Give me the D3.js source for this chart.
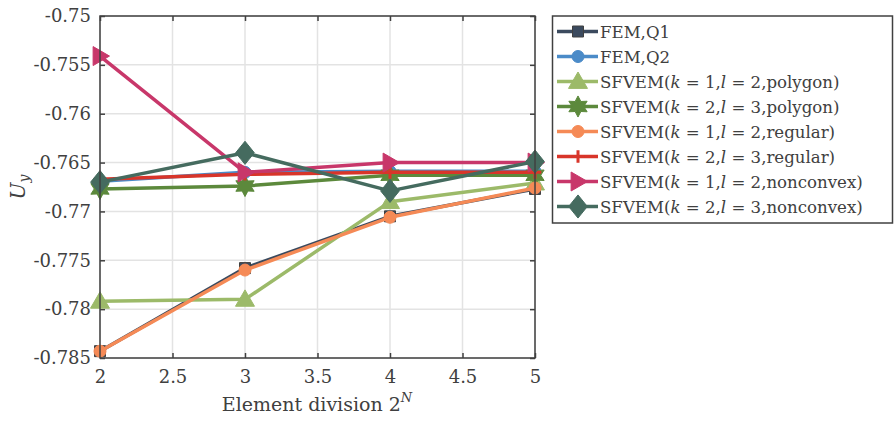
<!DOCTYPE html>
<html><head><meta charset="utf-8">
<script src="https://cdn.jsdelivr.net/npm/d3@7"></script>
<style>
body{margin:0;background:#fff;}
text{font-family:"DejaVu Serif",serif;fill:#404040;}
</style></head>
<body><svg id="c" width="894" height="421"></svg>
<script>
const xValues = [2, 3, 4, 5];
const seriesNames = [
  "FEM,Q1", "FEM,Q2",
  "SFVEM(k=1,l=2,polygon)", "SFVEM(k=2,l=3,polygon)",
  "SFVEM(k=1,l=2,regular)", "SFVEM(k=2,l=3,regular)",
  "SFVEM(k=1,l=2,nonconvex)", "SFVEM(k=2,l=3,nonconvex)"
];
const femQ1 = [-0.7843, -0.7758, -0.7705, -0.7677];
const femQ2 = [-0.7669, -0.7660, -0.7659, -0.7659];
const polyK1 = [-0.7792, -0.7790, -0.7690, -0.7671];
const polyK2 = [-0.7677, -0.7674, -0.7663, -0.7663];
const regK1 = [-0.7843, -0.7760, -0.7706, -0.7676];
const regK2 = [-0.7667, -0.7662, -0.7660, -0.7660];
const ncK1 = [-0.7541, -0.7660, -0.7650, -0.7650];
const ncK2 = [-0.7670, -0.7640, -0.7679, -0.7649];
const xTicks = [2, 2.5, 3, 3.5, 4, 4.5, 5];
const yTicks = [-0.75, -0.755, -0.76, -0.765, -0.77, -0.775, -0.78, -0.785];

const colors = ["#3b4a5e", "#4b8bc8", "#9cba69", "#5c893c", "#f58a56", "#d8352a", "#c8376a", "#456b5f"];
const markers = ["square", "circle", "triangle", "hexagram", "circle", "plus", "rtriangle", "diamond"];
const allData = [femQ1, femQ2, polyK1, polyK2, regK1, regK2, ncK1, ncK2];

const svg = d3.select("#c");
const L = 100, R = 535, T = 16, B = 358;
const x = d3.scaleLinear().domain([2, 5]).range([L, R]);
const y = d3.scaleLinear().domain([-0.785, -0.75]).range([B, T]);

svg.append("g").selectAll("line").data(xTicks).join("line")
  .attr("x1", d => x(d)).attr("x2", d => x(d)).attr("y1", T).attr("y2", B)
  .attr("stroke", "#e3e3e3").attr("stroke-width", 1.5);
svg.append("g").selectAll("line").data(yTicks).join("line")
  .attr("y1", d => y(d)).attr("y2", d => y(d)).attr("x1", L).attr("x2", R)
  .attr("stroke", "#e3e3e3").attr("stroke-width", 1.5);

const fmt = d => "-" + String(Math.abs(d));
const ax = svg.append("g");
ax.append("g").attr("transform", `translate(0,${B})`)
  .call(d3.axisBottom(x).tickValues(xTicks).tickSizeInner(-5).tickSizeOuter(0).tickPadding(12).tickFormat(d => String(d)));
ax.append("g").attr("transform", `translate(0,${T})`)
  .call(d3.axisTop(x).tickValues(xTicks).tickSizeInner(-5).tickSizeOuter(0).tickFormat(""));
ax.append("g").attr("transform", `translate(${L},0)`)
  .call(d3.axisLeft(y).tickValues(yTicks).tickSizeInner(-5).tickSizeOuter(0).tickPadding(9).tickFormat(fmt));
ax.append("g").attr("transform", `translate(${R},0)`)
  .call(d3.axisRight(y).tickValues(yTicks).tickSizeInner(-5).tickSizeOuter(0).tickFormat(""));
ax.selectAll(".domain").remove();
ax.selectAll(".tick line").attr("stroke", "#404040").attr("stroke-width", 1.5);
ax.selectAll(".tick text").attr("font-size", 18).attr("fill", "#404040");

function markerPath(type, s) {
  const p = d3.path();
  if (type === "square") { p.rect(-s/2, -s/2, s, s); }
  else if (type === "circle") { p.arc(0, 0, s/2, 0, 2*Math.PI); }
  else if (type === "triangle") { const h = s*0.9; p.moveTo(0, -h*0.62); p.lineTo(h*0.62, h*0.45); p.lineTo(-h*0.62, h*0.45); p.closePath(); }
  else if (type === "rtriangle") { const h = s*0.9; p.moveTo(h*0.62, 0); p.lineTo(-h*0.45, h*0.62); p.lineTo(-h*0.45, -h*0.62); p.closePath(); }
  else if (type === "diamond") { p.moveTo(0, -s*0.68); p.lineTo(s*0.55, 0); p.lineTo(0, s*0.68); p.lineTo(-s*0.55, 0); p.closePath(); }
  else if (type === "hexagram") {
    const ro = s*0.62, ri = s*0.34;
    for (let i = 0; i < 12; i++) {
      const a = -Math.PI/2 + i*Math.PI/6; const r = i % 2 === 0 ? ro : ri;
      if (i === 0) p.moveTo(r*Math.cos(a), r*Math.sin(a)); else p.lineTo(r*Math.cos(a), r*Math.sin(a));
    }
    p.closePath();
  }
  else if (type === "plus") { const h = s*0.45; p.moveTo(-h, 0); p.lineTo(h, 0); p.moveTo(0, -h); p.lineTo(0, h); }
  return p.toString();
}
const sizes = {square: 11, circle: 12, triangle: 17, hexagram: 17, plus: 14, rtriangle: 17, diamond: 17};

const line = d3.line().x((d, i) => x(xValues[i])).y(d => y(d));
const plot = svg.append("g");
allData.forEach((vals, si) => {
  plot.append("path").datum(vals).attr("d", line)
    .attr("fill", "none").attr("stroke", colors[si]).attr("stroke-width", 3.5).attr("stroke-linejoin", "round");
  plot.append("g").selectAll("path").data(vals).join("path")
    .attr("transform", (d, i) => `translate(${x(xValues[i])},${y(d)})`)
    .attr("d", markerPath(markers[si], sizes[markers[si]]))
    .attr("fill", markers[si] === "plus" ? "none" : colors[si])
    .attr("stroke", si === 0 ? "#404040" : colors[si]).attr("stroke-width", markers[si] === "plus" ? 3 : 1);
});

svg.append("rect").attr("x", L).attr("y", T).attr("width", R - L).attr("height", B - T)
  .attr("fill", "none").attr("stroke", "#404040").attr("stroke-width", 1.5);

const xl = svg.append("text").attr("x", 317).attr("y", 411).attr("text-anchor", "middle").attr("font-size", 19);
xl.append("tspan").text("Element division 2");
xl.append("tspan").attr("font-style", "italic").attr("font-size", 13).attr("dy", -9).text("N");
const ylab = svg.append("text").attr("transform", "translate(25,187) rotate(-90)").attr("text-anchor", "middle").attr("font-size", 20);
ylab.append("tspan").attr("font-style", "italic").text("U");
ylab.append("tspan").attr("font-style", "italic").attr("font-size", 14).attr("dy", 4).text("y");

const lg = svg.append("g");
lg.append("rect").attr("x", 552.5).attr("y", 16).attr("width", 340).attr("height", 207)
  .attr("fill", "#fff").attr("stroke", "#404040").attr("stroke-width", 1.5);
seriesNames.forEach((name, i) => {
  const yy = 31.5 + i * 25;
  lg.append("line").attr("x1", 557).attr("x2", 598).attr("y1", yy).attr("y2", yy)
    .attr("stroke", colors[i]).attr("stroke-width", 3.5);
  lg.append("path").attr("transform", `translate(578,${yy})`)
    .attr("d", markerPath(markers[i], sizes[markers[i]]))
    .attr("fill", markers[i] === "plus" ? "none" : colors[i])
    .attr("stroke", i === 0 ? "#404040" : colors[i]).attr("stroke-width", markers[i] === "plus" ? 3 : 1);
  const t = lg.append("text").attr("x", 600).attr("y", yy + 6).attr("font-size", 16.6);
  const m = name.match(/^SFVEM\(k=(\d),l=(\d),(\w+)\)$/);
  if (m) {
    t.append("tspan").text("SFVEM(");
    t.append("tspan").attr("font-style", "italic").text("k");
    t.append("tspan").text(" = " + m[1] + ",");
    t.append("tspan").attr("font-style", "italic").text("l");
    t.append("tspan").text(" = " + m[2] + "," + m[3] + ")");
  } else t.text(name);
});
</script></body></html>
